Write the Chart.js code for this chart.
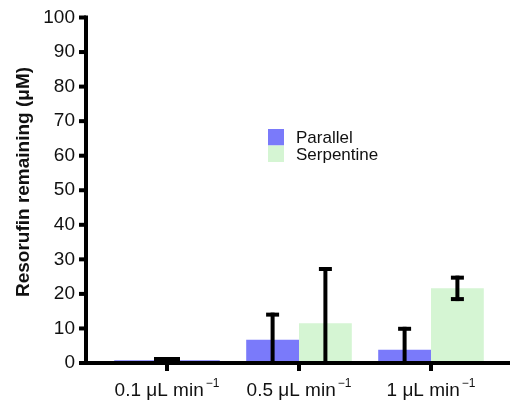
<!DOCTYPE html>
<html><head><meta charset="utf-8">
<script src="https://cdn.jsdelivr.net/npm/chart.js@4.4.1/dist/chart.umd.min.js"></script>
<style>html,body{margin:0;padding:0;background:#fff}#wrap{width:510px;height:400px}</style>
</head><body><div id="wrap"><canvas id="c" width="510" height="400"></canvas></div>
<script>
// ---- data ----
const categories = ['0.1 μL min', '0.5 μL min', '1 μL min'];
const categoryExponent = ['−1', '−1', '−1'];
const parallel = [null, 6.7, 3.8];
const parallelErr = [null, 7.3, 6.1];
const serpentine = [null, 11.5, 21.6];
const serpentineErr = [null, 15.7, 3.1];
const lowFlow = [0.8, null, null];       // 0.1 μL/min: single combined bar
const lowFlowErr = [0.35, null, null];
const yTitle = 'Resorufin remaining (μM)';
const yMin = 0, yMax = 100, yStep = 10;

const BLUE = 'rgb(122,122,250)';
const GREEN = 'rgb(213,245,211)';
const FONT = "'Liberation Sans', Arial, Helvetica, sans-serif";
const NARROW = "'Liberation Sans Narrow', 'Arial Narrow', " + FONT;

const overlay = {
  id: 'overlay',
  afterDatasetsDraw(chart) {
    const ctx = chart.ctx, xs = chart.scales.x, ys = chart.scales.y;
    ctx.save();
    ctx.strokeStyle = '#000';
    ctx.lineWidth = 4;
    ctx.lineCap = 'butt';
    // error bars
    chart.data.datasets.forEach((ds, i) => {
      const meta = chart.getDatasetMeta(i);
      meta.data.forEach((bar, j) => {
        const v = ds.data[j], e = ds.errors[j];
        if (v == null || e == null) return;
        const yt = ys.getPixelForValue(v + e);
        const lo = v - e;
        const yb = ys.getPixelForValue(Math.max(0, lo));
        ctx.beginPath(); ctx.moveTo(bar.x, yt - 2); ctx.lineTo(bar.x, yb + (lo > 0 ? 2 : 0)); ctx.stroke();
        ctx.beginPath(); ctx.moveTo(bar.x - ds.capHalf, yt); ctx.lineTo(bar.x + ds.capHalf, yt); ctx.stroke();
        if (lo > 0) {
          ctx.beginPath(); ctx.moveTo(bar.x - ds.capHalf, yb); ctx.lineTo(bar.x + ds.capHalf, yb); ctx.stroke();
        }
      });
    });
    // axes
    const ax = chart.chartArea.left - 15;
    const y0 = ys.getPixelForValue(yMin), yTop = ys.getPixelForValue(yMax);
    ctx.beginPath(); ctx.moveTo(ax, yTop - 2); ctx.lineTo(ax, y0 + 2); ctx.stroke();
    ctx.beginPath(); ctx.moveTo(ax - 2, y0); ctx.lineTo(chart.width, y0); ctx.stroke();
    ys.ticks.forEach(t => {
      const p = ys.getPixelForValue(t.value);
      ctx.beginPath(); ctx.moveTo(ax - 7, p); ctx.lineTo(ax, p); ctx.stroke();
    });
    // x ticks and labels
    ctx.fillStyle = '#111';
    categories.forEach((lab, i) => {
      const cx = xs.getPixelForTick(i);
      ctx.beginPath(); ctx.moveTo(cx, y0); ctx.lineTo(cx, y0 + 8); ctx.stroke();
      ctx.font = '19px ' + FONT;
      const w1 = ctx.measureText(lab).width;
      ctx.font = '12px ' + FONT;
      const w2 = ctx.measureText(categoryExponent[i]).width;
      const gap = 2;
      const start = cx - (w1 + gap + w2) / 2;
      ctx.textAlign = 'left'; ctx.textBaseline = 'alphabetic';
      ctx.font = '19px ' + FONT;
      ctx.fillText(lab, start, 396);
      ctx.font = '12px ' + FONT;
      ctx.fillText(categoryExponent[i], start + w1 + gap, 387);
    });
    // y title
    ctx.save();
    ctx.translate(24, 182);
    ctx.rotate(-Math.PI / 2);
    ctx.font = 'bold 19px ' + FONT;
    ctx.textAlign = 'center'; ctx.textBaseline = 'middle';
    ctx.fillText(yTitle, 0, 0);
    ctx.restore();
    // legend
    let ly = 129;
    chart.data.datasets.forEach(ds => {
      if (ds.inLegend === false) return;
      ctx.fillStyle = ds.backgroundColor;
      ctx.fillRect(268, ly, 16, 16.5);
      ctx.fillStyle = '#111';
      ctx.font = '17px ' + NARROW;
      ctx.textAlign = 'left'; ctx.textBaseline = 'alphabetic';
      ctx.fillText(ds.label, 296, ly + 14);
      ly += 16.5;
    });
    ctx.restore();
  }
};

new Chart(document.getElementById('c'), {
  type: 'bar',
  data: {
    labels: categories,
    datasets: [
      { label: 'Parallel', data: parallel, errors: parallelErr, backgroundColor: BLUE, capHalf: 6.5 },
      { label: 'Serpentine', data: serpentine, errors: serpentineErr, backgroundColor: GREEN, capHalf: 6.5 },
      { label: 'All', data: lowFlow, errors: lowFlowErr, backgroundColor: BLUE, grouped: false, capHalf: 13, inLegend: false }
    ]
  },
  options: {
    responsive: false, animation: false, devicePixelRatio: 1,
    categoryPercentage: 0.8, barPercentage: 1.0,
    layout: { padding: { top: 17.5, bottom: 37, left: 0, right: 13 } },
    plugins: { legend: { display: false }, tooltip: { enabled: false } },
    scales: {
      x: { grid: { display: false, drawTicks: false }, border: { display: false }, ticks: { display: false } },
      y: {
        min: yMin, max: yMax,
        ticks: { stepSize: yStep, padding: 26, color: '#111', font: { family: FONT, size: 19 } },
        grid: { display: false, drawTicks: false }, border: { display: false },
        afterFit(s) { s.width = 101; s.paddingTop = 0; s.paddingBottom = 0; }
      }
    }
  },
  plugins: [overlay]
});
</script></body></html>
